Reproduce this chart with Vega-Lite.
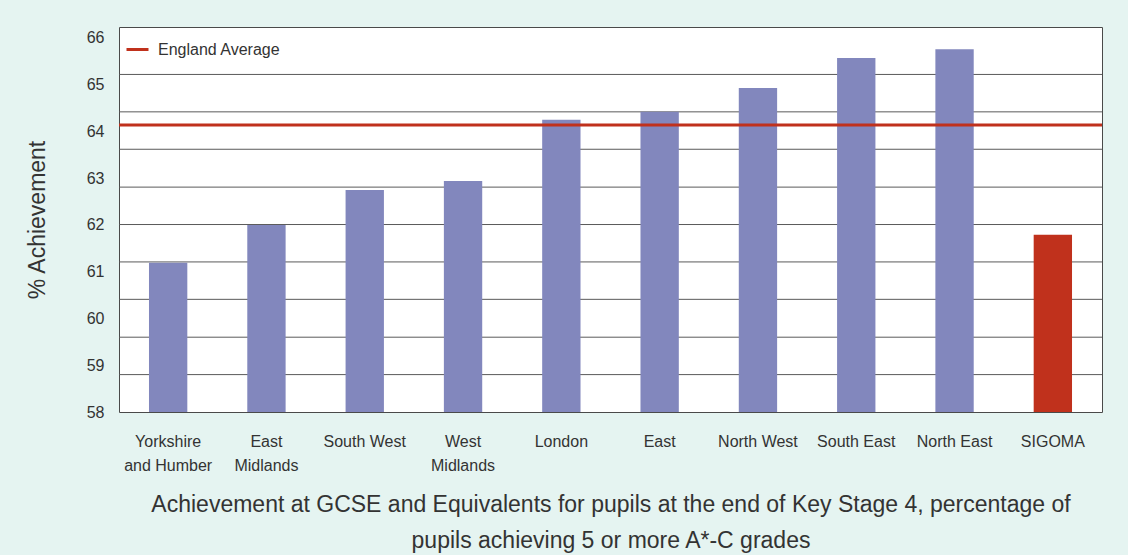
{
  "$schema": "https://vega.github.io/schema/vega-lite/v6.json",
  "width": 983,
  "height": 385,
  "autosize": {"type": "none"},
  "padding": {"left": 119, "top": 27, "right": 26, "bottom": 143},
  "background": "#e5f4f1",
  "config": {
    "view": {"fill": "#ffffff", "stroke": "#4a4a4a", "strokeWidth": 1},
    "font": "Liberation Sans",
    "axis": {"labelColor": "#333333", "titleColor": "#333333", "titleFontWeight": "normal"}
  },
  "datasets": {
    "bars": [
      {"region": "Yorkshire and Humber", "value": 61.19, "kind": "region"},
      {"region": "East Midlands", "value": 62.0, "kind": "region"},
      {"region": "South West", "value": 62.75, "kind": "region"},
      {"region": "West Midlands", "value": 62.94, "kind": "region"},
      {"region": "London", "value": 64.25, "kind": "region"},
      {"region": "East", "value": 64.42, "kind": "region"},
      {"region": "North West", "value": 64.93, "kind": "region"},
      {"region": "South East", "value": 65.57, "kind": "region"},
      {"region": "North East", "value": 65.76, "kind": "region"},
      {"region": "SIGOMA", "value": 61.79, "kind": "SIGOMA"}
    ],
    "grid": [
      {"g": 58.8}, {"g": 59.6}, {"g": 60.41}, {"g": 61.21}, {"g": 62.01},
      {"g": 62.81}, {"g": 63.62}, {"g": 64.42}, {"g": 65.22}
    ],
    "avg": [{"label": "England Average", "value": 64.14}]
  },
  "layer": [
    {
      "data": {"name": "grid"},
      "mark": {"type": "rule", "stroke": "#5a5a5a", "strokeWidth": 1},
      "encoding": {
        "y": {"field": "g", "type": "quantitative", "scale": {"domain": [58, 66.235], "nice": false, "zero": false}}
      }
    },
    {
      "data": {"name": "bars"},
      "mark": {"type": "bar", "clip": true},
      "encoding": {
        "x": {
          "field": "region", "type": "nominal", "sort": null,
          "scale": {"paddingInner": 0.61, "paddingOuter": 0.305},
          "axis": {
            "title": ["Achievement at GCSE and Equivalents for pupils at the end of Key Stage 4, percentage of", "pupils achieving 5 or more A*-C grades"],
            "titleFontSize": 23, "titleLineHeight": 36, "titlePadding": 20,
            "labelAngle": 0, "labelFontSize": 16, "labelLineHeight": 24, "labelPadding": 34,
            "labelBaseline": "alphabetic",
            "domain": false, "ticks": false,
            "labelExpr": "datum.value == 'Yorkshire and Humber' ? ['Yorkshire', 'and Humber'] : datum.value == 'East Midlands' ? ['East', 'Midlands'] : datum.value == 'West Midlands' ? ['West', 'Midlands'] : datum.label"
          }
        },
        "y": {
          "field": "value", "type": "quantitative",
          "scale": {"domain": [58, 66.235], "nice": false, "zero": false},
          "axis": {
            "title": "% Achievement", "titleFontSize": 23, "titlePadding": 37,
            "values": [58, 59, 60, 61, 62, 63, 64, 65, 66],
            "grid": false, "ticks": false, "domain": false,
            "labelFontSize": 16, "labelPadding": 15
          }
        },
        "y2": {"datum": 58},
        "color": {
          "field": "kind", "type": "nominal",
          "scale": {"domain": ["region", "SIGOMA"], "range": ["#8287bd", "#c0311c"]},
          "legend": null
        }
      }
    },
    {
      "data": {"name": "avg"},
      "mark": {"type": "rule", "strokeWidth": 3},
      "encoding": {
        "y": {"field": "value", "type": "quantitative"},
        "stroke": {
          "field": "label", "type": "nominal",
          "scale": {"range": ["#c0311c"]},
          "legend": {
            "title": null, "orient": "none", "legendX": 6, "legendY": 10, "padding": 0,
            "symbolType": "stroke", "symbolSize": 484, "symbolStrokeWidth": 3,
            "labelFontSize": 16, "labelColor": "#333333", "labelOffset": 8,
            "labelFont": "Liberation Sans"
          }
        }
      }
    }
  ]
}
